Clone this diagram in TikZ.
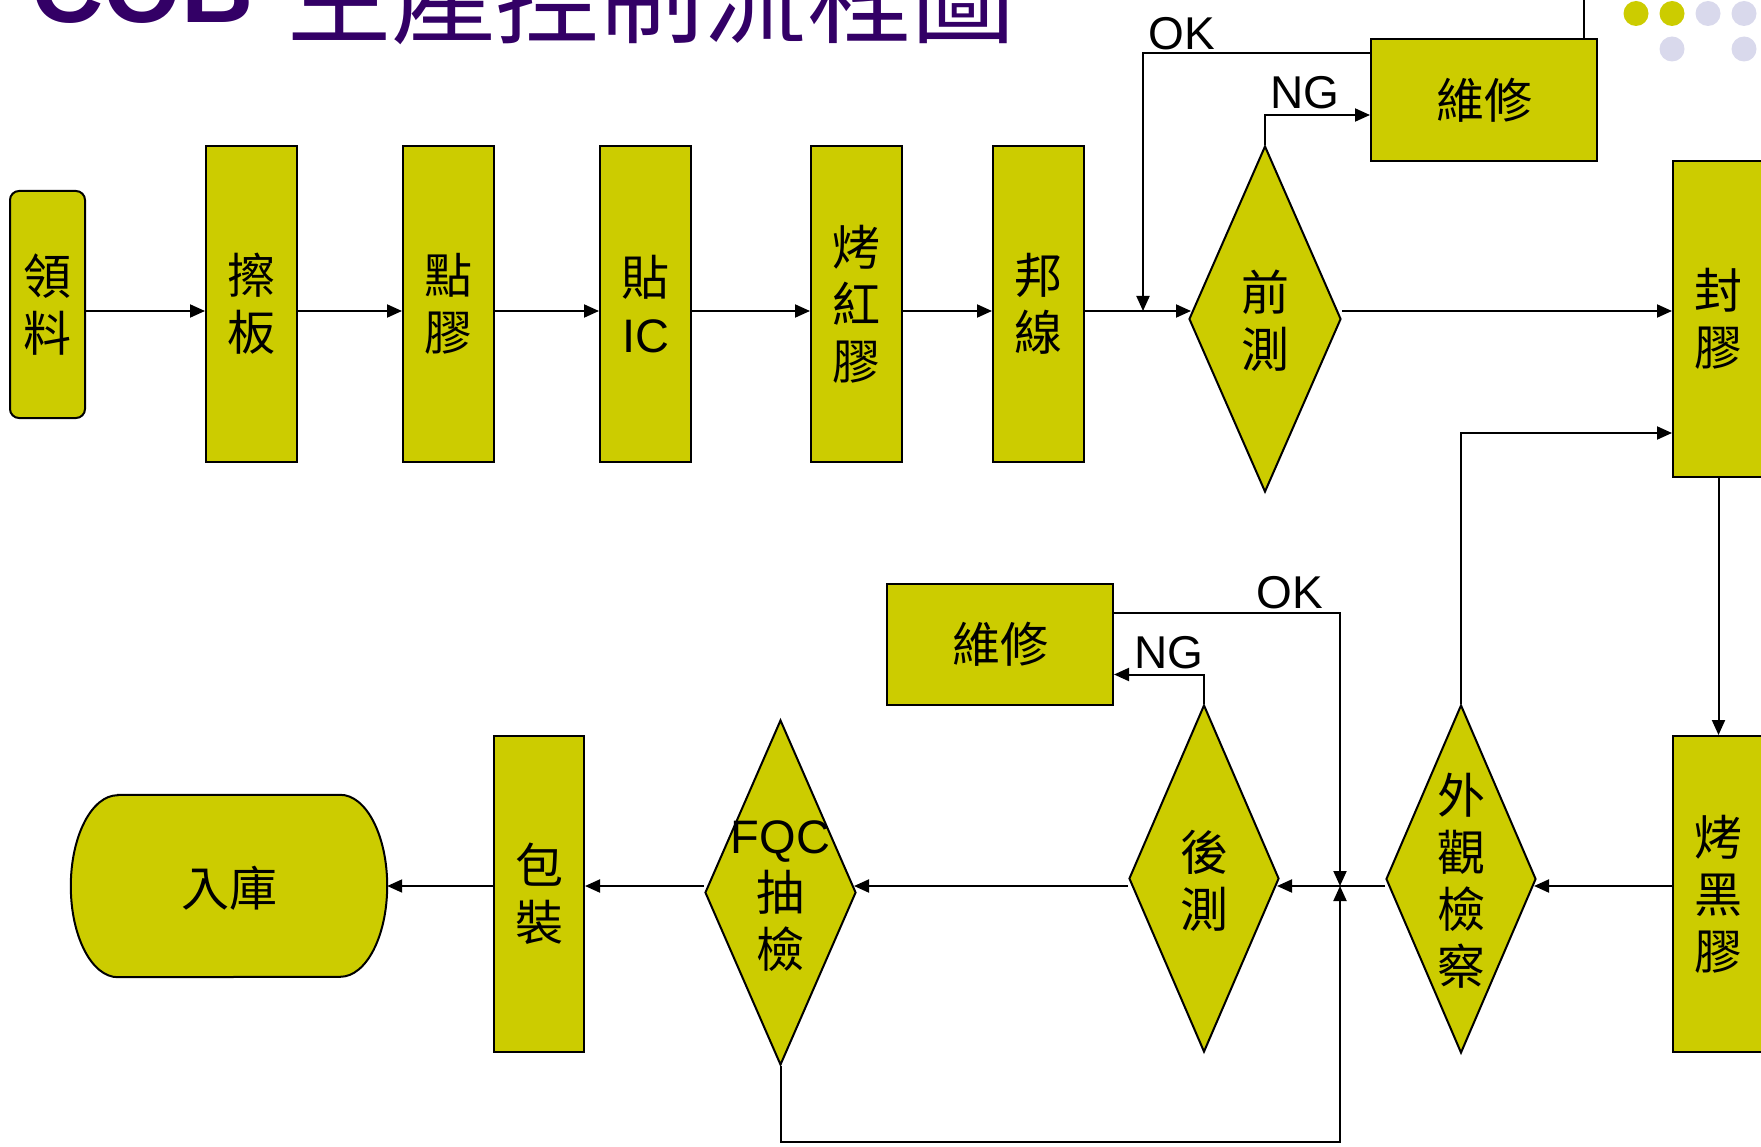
\documentclass[tikz,border=0pt]{standalone}
\usepackage{fontspec}
\setmainfont{Liberation Sans}
\newfontfamily\cjk{Noto Sans CJK TC}
\newfontfamily\lat{Liberation Sans}
\usetikzlibrary{arrows.meta,shapes.geometric,calc}
\definecolor{boxfill}{HTML}{CCCC00}
\definecolor{titlepurple}{HTML}{330066}
\definecolor{dotlav}{HTML}{D9D9EC}
\begin{document}
\begin{tikzpicture}[x=1pt,y=-1pt,
  box/.style={draw=black,line width=2pt,fill=boxfill,inner sep=0pt,align=center,
    font=\fontsize{48}{57}\selectfont\cjk},
  dia/.style={shape=diamond,draw=black,line width=2pt,fill=boxfill,inner sep=0pt},
  txt/.style={align=center,inner sep=0pt,font=\fontsize{48}{57}\selectfont\cjk},
  lbl/.style={inner sep=0pt,font=\fontsize{46}{50}\selectfont\lat},
  conn/.style={line width=2pt,draw=black},
  arr/.style={conn,-{Triangle[length=15pt,width=13pt]}},
  todia/.style={arr,shorten >=-3pt},
]
\useasboundingbox (0,0) rectangle (1761,1147);

% title (cut off at the top)
\node[anchor=base west,inner sep=0pt,text=titlepurple,
  font=\fontsize{100}{100}\selectfont\lat\bfseries] (t1) at (31,23) {COB};
\node[anchor=base west,inner sep=0pt,text=titlepurple,
  font=\fontsize{104}{104}\selectfont\cjk] (t2) at (287,36) {生產控制流程圖};

% decorative dots
\fill[boxfill] (1636,13.5) circle[radius=12.5pt];
\fill[boxfill] (1672,13.5) circle[radius=12.5pt];
\fill[dotlav] (1708,13.5) circle[radius=12.5pt];
\fill[dotlav] (1744,13.5) circle[radius=12.5pt];
\fill[dotlav] (1672,49) circle[radius=12.5pt];
\fill[dotlav] (1744,49) circle[radius=12.5pt];

% top row
\node[box,rounded corners=9pt,minimum width=75pt,minimum height=227pt] (n1) at (47.5,304.5) {領\\料};
\node[box,minimum width=91pt,minimum height=316pt] (n2) at (251.5,304) {擦\\板};
\node[box,minimum width=91pt,minimum height=316pt] (n3) at (448.5,304) {點\\膠};
\node[box,minimum width=91pt,minimum height=316pt] (n4) at (645.5,304) {貼\\{\lat\fontsize{47}{57}\selectfont IC}};
\node[box,minimum width=91pt,minimum height=316pt] (n5) at (856.5,304) {烤\\紅\\膠};
\node[box,minimum width=91pt,minimum height=316pt] (n6) at (1038.5,304) {邦\\線};

\node[dia,minimum width=152pt,minimum height=346pt] (qc) at (1265,319) {};
\node[txt] (qct) at ($(qc)+(0,2)$) {前\\測};

\node[box,minimum width=226pt,minimum height=122pt] (fix1) at (1484,100) {維修};
\node[box,minimum width=91pt,minimum height=316pt] (seal) at (1718.5,319) {封\\膠};

% bottom row
\node[box,minimum width=91pt,minimum height=316pt] (bk) at (1718.5,894) {烤\\黑\\膠};
\node[dia,minimum width=150pt,minimum height=348pt] (ins) at (1461,879) {};
\node[txt] (inst) at ($(ins)+(0,2)$) {外\\觀\\檢\\察};
\node[dia,minimum width=150pt,minimum height=347pt] (post) at (1204,878.5) {};
\node[txt] (postt) at ($(post)+(0,2)$) {後\\測};
\node[box,minimum width=226pt,minimum height=121pt] (fix2) at (1000,644.5) {維修};
\node[dia,minimum width=151pt,minimum height=345pt] (fqc) at (780.5,892.5) {};
\node[txt] (fqct) at ($(fqc)+(0,4)$) {{\lat\fontsize{47}{57}\selectfont FQC}\\抽\\檢};
\node[box,minimum width=90pt,minimum height=316pt] (pack) at (539,894) {包\\裝};

\node[inner sep=0pt,minimum width=316pt,minimum height=182pt] (store) at (229,886) {};
\draw[line width=2pt,fill=boxfill]
  ($(store.north west)+(47,0)$) -- ($(store.north east)+(-47,0)$)
  arc[start angle=90,end angle=-90,x radius=47pt,y radius=91pt]
  -- ($(store.south west)+(47,0)$)
  arc[start angle=270,end angle=90,x radius=47pt,y radius=91pt] -- cycle;
\node[txt] (storet) at ($(store)+(0,2)$) {入庫};

% helper rows
\coordinate (r1) at (0,311);
\coordinate (r2) at (0,886);
\coordinate (okdrop) at (1143,311);
\coordinate (topexit) at (1584,0);
\coordinate (junc) at (1340,886);
\coordinate (loopc) at (1340,1142);

% connectors, top row
\draw[arr] (n1.east |- r1) -- (n2.west |- r1);
\draw[arr] (n2.east |- r1) -- (n3.west |- r1);
\draw[arr] (n3.east |- r1) -- (n4.west |- r1);
\draw[arr] (n4.east |- r1) -- (n5.west |- r1);
\draw[arr] (n5.east |- r1) -- (n6.west |- r1);
\draw[todia] (n6.east |- r1) -- (qc.west |- r1);
\draw[arr] (qc.north) |- ($(fix1.west)+(0,15)$);
\draw[arr] ($(fix1.north west)+(0,15)$) -| (okdrop);
\draw[conn] (topexit |- fix1.north) -- (topexit);
\draw[arr] (qc.east |- r1) -- (seal.west |- r1);
\draw[arr] (seal.south) -- (bk.north);

% connectors, bottom row
\draw[todia] (bk.west |- r2) -- (ins.east |- r2);
\draw[arr] (ins.north) |- ($(seal.south west)+(0,-45)$);
\draw[todia] (ins.west |- r2) -- (post.east |- r2);
\draw[arr] (post.north) |- ($(fix2.east)+(0,30)$);
\draw[arr] ($(fix2.north east)+(0,30)$) -| (junc);
\draw[todia] (post.west |- r2) -- (fqc.east |- r2);
\draw[arr] (fqc.south) |- (loopc) -- (junc);
\draw[arr] (fqc.west |- r2) -- (pack.east |- r2);
\draw[arr] (pack.west |- r2) -- (store.east);

% labels
\node[lbl] (okA) at (1182,34) {OK};
\node[lbl] (ngA) at (1305,93) {NG};
\node[lbl] (okB) at (1290,593) {OK};
\node[lbl] (ngB) at (1169,653) {NG};
\end{tikzpicture}
\end{document}
